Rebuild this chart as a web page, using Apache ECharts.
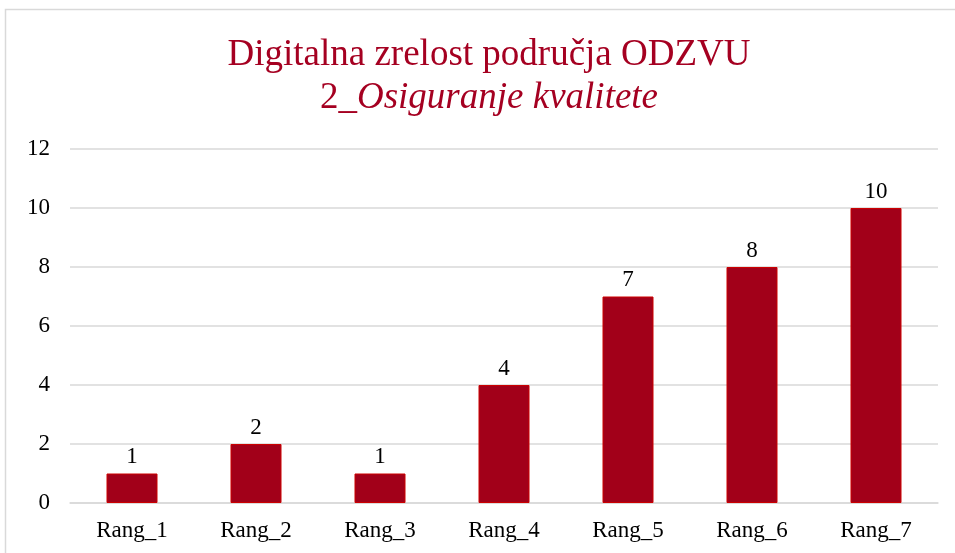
<!DOCTYPE html>
<html><head><meta charset="utf-8">
<script src="https://cdn.jsdelivr.net/npm/echarts@6/dist/echarts.min.js"></script>
<style>html,body{margin:0;padding:0;background:#fff}#c{width:955px;height:553px}</style>
</head><body><div id="c"></div>
<script>
const categories = ['Rang_1','Rang_2','Rang_3','Rang_4','Rang_5','Rang_6','Rang_7'];
const values = [1, 2, 1, 4, 7, 8, 10];
const titleLine1 = 'Digitalna zrelost područja ODZVU';
const titleNum = '2_';
const titleItalic = 'Osiguranje kvalitete';
const font = '"Liberation Serif","Times New Roman",serif';
const chart = echarts.init(document.getElementById('c'));
chart.setOption({
  animation: false,
  textStyle: { fontFamily: font },
  graphic: [{ type: 'rect', shape: { x: 5.5, y: 9.5, width: 1000, height: 600 }, style: { fill: 'none', stroke: '#d9d9d9', lineWidth: 1.5 }, silent: true }],
  title: {
    text: '{a|' + titleLine1 + '}\n{b|' + titleNum + '}{c|' + titleItalic + '}',
    left: 484, textAlign: 'center', top: 29,
    textStyle: {
      fontWeight: 'normal',
      rich: {
        a: { fontFamily: font, fontSize: 37, fontWeight: 'normal', color: '#A50021', lineHeight: 43 },
        b: { fontFamily: font, fontSize: 37, fontWeight: 'normal', color: '#A50021', lineHeight: 43 },
        c: { fontFamily: font, fontSize: 37, fontWeight: 'normal', color: '#A50021', fontStyle: 'italic', lineHeight: 43 }
      }
    }
  },
  grid: { left: 70, right: 17, top: 149, bottom: 50, containLabel: false },
  xAxis: {
    type: 'category', data: categories,
    axisLine: { show: true, lineStyle: { color: '#d9d9d9', width: 1.5 } },
    axisTick: { show: false },
    axisLabel: { fontFamily: font, fontSize: 23, color: '#000', margin: 16 }
  },
  yAxis: {
    type: 'value', min: 0, max: 12, interval: 2,
    axisLine: { show: false }, axisTick: { show: false },
    axisLabel: { fontFamily: font, fontSize: 23, color: '#000', margin: 20 },
    splitLine: { lineStyle: { color: '#d9d9d9', width: 1.5 } }
  },
  series: [{
    type: 'bar', data: values, barWidth: 51,
    itemStyle: { color: '#A20019', borderColor: '#CC0000', borderWidth: 1 },
    label: { show: true, position: 'top', fontFamily: font, fontSize: 23, color: '#000', distance: 5 }
  }]
});
</script></body></html>
